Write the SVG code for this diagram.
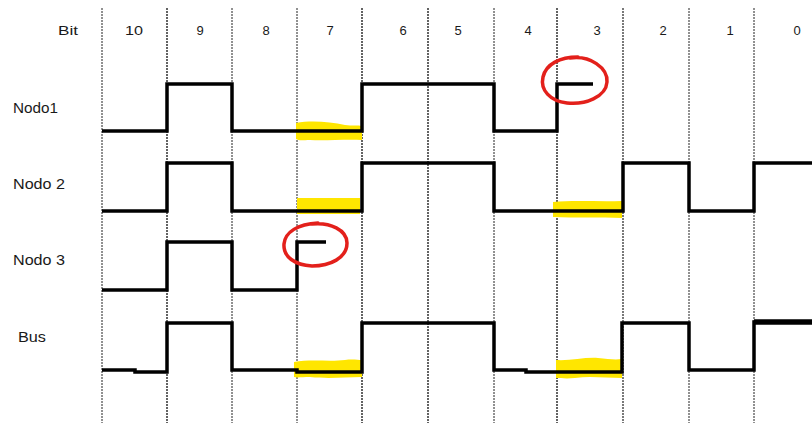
<svg xmlns="http://www.w3.org/2000/svg" width="812" height="423" viewBox="0 0 812 423">
<style>
.lbl{font-family:"Liberation Sans",Arial,sans-serif;fill:#1a1a1a;}
.hdr{font-size:13px;text-anchor:middle;}
.row{font-size:14.5px;}
.grid line{stroke:#222;stroke-width:1;stroke-dasharray:2 1;}
.sig{fill:none;stroke:#000;stroke-width:3.5;stroke-linejoin:miter;stroke-linecap:butt;}
.hl{fill:#ffe600;stroke:none;}
.mark{fill:none;stroke:#e3201b;stroke-width:3.5;stroke-linecap:round;stroke-linejoin:round;}
</style>
<rect width="812" height="423" fill="#fff"/>
<g id="grid" class="grid">
<line x1="102" y1="8" x2="102" y2="423"/>
<line x1="167" y1="8" x2="167" y2="423" style="stroke-width:1.4"/>
<line x1="232" y1="8" x2="232" y2="423"/>
<line x1="297" y1="8" x2="297" y2="423"/>
<line x1="362" y1="8" x2="362" y2="423" style="stroke-width:1.4"/>
<line x1="428" y1="8" x2="428" y2="423" style="stroke-width:1.4"/>
<line x1="494" y1="8" x2="494" y2="423"/>
<line x1="557" y1="8" x2="557" y2="423" style="stroke-width:1.4"/>
<line x1="623" y1="8" x2="623" y2="423" style="stroke-width:1.2"/>
<line x1="689" y1="8" x2="689" y2="423"/>
<line x1="754" y1="8" x2="754" y2="423"/>
</g>
<g id="header" class="lbl hdr">
<text x="68" y="35" textLength="20" lengthAdjust="spacingAndGlyphs">Bit</text>
<text x="134" y="35" textLength="18" lengthAdjust="spacingAndGlyphs">10</text>
<text x="200" y="35">9</text>
<text x="266" y="35">8</text>
<text x="330" y="35">7</text>
<text x="403" y="35">6</text>
<text x="458" y="35">5</text>
<text x="528" y="35">4</text>
<text x="597" y="35">3</text>
<text x="663" y="35">2</text>
<text x="730" y="35">1</text>
<text x="797" y="35">0</text>
</g>
<g id="highlights">
<path class="hl" d="M296,123 C312,120 330,122 345,125 C352,126 358,125 362,126 L362,140 C345,139 325,141 310,140 C303,140 299,141 296,139 Z"/>
<path class="hl" d="M297,198 L360,198 L360,214 L297,214 Z"/>
<path class="hl" d="M553,202 C575,200 600,202 622,201 L622,218 C600,217 575,218 553,217 Z"/>
<path class="hl" d="M294,362 C310,359 330,362 345,360 C352,359 358,360 362,360 L362,377 C345,377 330,379 310,377 C302,377 297,378 294,377 Z"/>
<path class="hl" d="M556,360 C570,361 585,357 598,358 C608,359 615,360 622,359 L622,378 C605,378 590,376 575,378 C566,379 560,378 556,378 Z"/>
</g>
<g id="nodo1">
<text class="lbl row" x="13" y="113" textLength="45" lengthAdjust="spacingAndGlyphs">Nodo1</text>
<path class="sig" d="M102,131 H167 V84 H232 V131 H362 V84 H494 V131 H557 V84 H593"/>
</g>
<g id="nodo2">
<text class="lbl row" x="13" y="189" textLength="52" lengthAdjust="spacingAndGlyphs">Nodo 2</text>
<path class="sig" d="M102,211 H167 V163 H232 V211 H362 V163 H494 V211 H623 V163 H689 V211 H754 V163 H812"/>
</g>
<g id="nodo3">
<text class="lbl row" x="13" y="265" textLength="52" lengthAdjust="spacingAndGlyphs">Nodo 3</text>
<path class="sig" d="M102,290 H167 V242 H232 V290 H297 V242 H326"/>
</g>
<g id="bus">
<text class="lbl row" x="18" y="342" textLength="28" lengthAdjust="spacingAndGlyphs" style="font-size:15.5px">Bus</text>
<path class="sig" d="M102,370 H135 V372 H167 V323 H232 V370 H297 V372 H362 V323 H494 V370 H526 V372 H622 V323 H689 V370 H754 V322 H812"/>
<path class="sig" d="M754,322 H812" style="stroke-width:5.5"/>
</g>
<g id="marks">
<path class="mark" d="M570,58 C590,55 608,68 607,82 C606,97 585,105 567,103 C550,101 540,90 543,77 C546,64 560,57 578,57"/>
<path class="mark" d="M312,224 C330,222 347,230 347,243 C347,258 330,266 312,266 C295,265 283,257 284,244 C285,232 298,224 318,223"/>
</g>
</svg>
